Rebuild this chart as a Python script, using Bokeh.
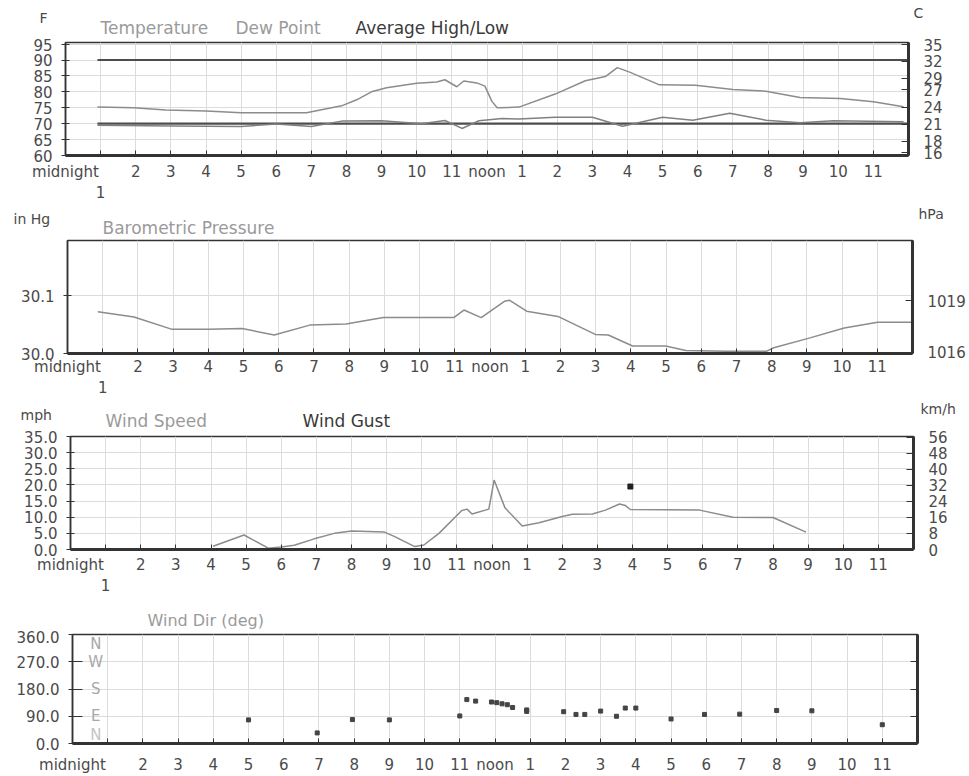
from bokeh.plotting import figure
from bokeh.models import Range1d, LinearAxis, FixedTicker, NumeralTickFormatter
from bokeh.layouts import column
from bokeh.embed import file_html
from bokeh.resources import INLINE
from bokeh.core.properties import value

FONT = "DejaVu Sans"

# ---------------- data ----------------
hour_ticks = list(range(0, 24))
hour_labels = ["midnight"] + [str(h) for h in range(1, 12)] + ["noon"] + [str(h) for h in range(1, 12)]

temp_h = [0.91, 1.94, 2.86, 4.0, 5.0, 6.0, 6.86, 7.29, 7.86, 8.29, 8.71, 9.14, 9.57, 10.0, 10.57, 10.8,
          11.14, 11.34, 11.71, 11.94, 12.14, 12.29, 12.91, 13.94, 14.8, 15.37, 15.71, 16.06, 16.91,
          17.94, 19.0, 19.94, 20.91, 22.06, 23.0, 23.86]
temp_f = [75.2, 75.0, 74.3, 74.0, 73.4, 73.4, 73.4, 74.4, 75.6, 77.5, 80.0, 81.3, 82.0, 82.7, 83.1, 83.8,
          81.6, 83.4, 82.8, 81.8, 77.0, 75.0, 75.2, 79.3, 83.5, 84.8, 87.6, 86.2, 82.2,
          82.1, 80.7, 80.2, 78.2, 77.9, 76.9, 75.3]

dew_h = [0.91, 3.0, 5.0, 6.0, 7.0, 7.86, 9.0, 10.14, 10.8, 11.29, 11.77, 12.43, 12.91, 13.94, 15.0,
         15.86, 17.0, 17.86, 18.91, 19.94, 20.91, 21.86, 23.86]
dew_f = [69.5, 69.3, 69.1, 69.9, 69.1, 70.8, 70.9, 70.0, 71.0, 68.5, 70.9, 71.6, 71.5, 72.0, 72.0,
         69.2, 72.0, 71.1, 73.3, 71.1, 70.3, 70.9, 70.6]

avg_h = [0.91, 24.0]
avg_high_f = [90, 90]
avg_low_f = [70, 70]

press_h = [0.86, 1.89, 2.95, 4.01, 4.96, 5.87, 6.88, 7.91, 8.97, 9.97, 10.97, 11.26, 11.75, 12.41, 12.55,
           13.04, 13.93, 14.99, 15.36, 16.05, 16.99, 17.56, 18.71, 19.86, 20.06, 21.09, 22.06, 23.01, 24.0]
press_inhg = [30.072, 30.063, 30.042, 30.042, 30.043, 30.032, 30.049, 30.051, 30.062, 30.062, 30.062,
              30.075, 30.062, 30.090, 30.092, 30.073, 30.064, 30.033, 30.032, 30.013, 30.013, 30.005,
              30.004, 30.004, 30.010, 30.027, 30.044, 30.054, 30.054]

wind_h = [4.06, 4.94, 5.63, 6.0, 6.37, 6.94, 7.51, 8.0, 8.94, 9.23, 9.8, 10.06, 10.49, 11.14, 11.29,
          11.43, 11.91, 12.06, 12.37, 12.86, 13.34, 14.0, 14.29, 14.86, 15.23, 15.63, 15.8, 15.94,
          17.91, 18.86, 20.0, 20.94]
wind_mph = [1.0, 4.5, 0.4, 0.8, 1.3, 3.3, 5.0, 5.7, 5.4, 4.0, 0.9, 1.4, 5.0, 12.1, 12.5,
            11.0, 12.5, 21.5, 12.9, 7.3, 8.3, 10.2, 10.9, 11.0, 12.2, 14.1, 13.6, 12.4,
            12.2, 10.0, 9.9, 5.4]

gust_h = [15.94]
gust_mph = [19.5]

dir_h = [5.0, 6.95, 7.95, 9.0, 11.0, 11.2, 11.45, 11.9, 12.05, 12.2, 12.35, 12.5, 12.9, 12.9, 13.95,
         14.3, 14.55, 15.0, 15.45, 15.7, 16.0, 17.0, 17.95, 18.95, 20.0, 21.0, 23.0]
dir_deg = [78, 35, 79, 78, 91, 145, 140, 137, 135, 131, 128, 119, 111, 106, 105,
           96, 96, 107, 90, 117, 117, 81, 96, 97, 109, 108, 62]

compass_letters = ["N", "W", "S", "E", "N"]
compass_deg = [360, 270, 180, 90, 0]

temp_f_ticks = [60, 65, 70, 75, 80, 85, 90, 95]
temp_c_ticks = [16, 18, 21, 24, 27, 29, 32, 35]
press_ticks = [30.0, 30.1]
press_hpa_ticks = [1016, 1019]
wind_ticks = [0, 5, 10, 15, 20, 25, 30, 35]
wind_kmh_ticks = [0, 8, 16, 24, 32, 40, 48, 56]
dir_ticks = [0, 90, 180, 270, 360]

# ---------------- styling helpers ----------------
W = 969
TXT = "#4a4a4a"
GRID = "#dcdcdc"
FRAME = "#333333"
LEG_LIGHT = "#9a9a9a"
LEG_DARK = "#3a3a3a"
BASE_SHIFT = 6  # alphabetic baseline correction (px)


def header(height):
    h = figure(width=W, height=height, x_range=Range1d(0, W), y_range=Range1d(height, 0),
               output_backend="svg", toolbar_location=None,
               x_axis_location=None, y_axis_location=None, frame_align=False,
               min_border_left=0, min_border_right=0, min_border_top=0, min_border_bottom=0)
    h.outline_line_color = None
    h.grid.visible = False
    return h


def htext(h, x, y, texts, color=TXT, size="14px", align="left"):
    h.text(x=x, y=[v - BASE_SHIFT for v in y], text=texts, text_font=value(FONT),
           text_font_size=size, text_color=color, text_align=align, text_baseline="alphabetic")


def make_panel(height, left, right, top, bottom, y0, y1, second_label=True, standoff=8):
    p = figure(width=W, height=height, x_range=Range1d(0, 24), y_range=Range1d(y0, y1),
               output_backend="svg", toolbar_location=None, frame_align=False,
               min_border_left=left, min_border_right=W - right,
               min_border_top=top, min_border_bottom=bottom)
    p.outline_line_color = FRAME
    p.outline_line_width = 1.5
    xa = p.xaxis[0]
    xa.ticker = FixedTicker(ticks=hour_ticks)
    ov = {h: lab for h, lab in zip(hour_ticks, hour_labels)}
    ov[1] = "\n1" if second_label else ""
    xa.major_label_overrides = ov
    xa.major_tick_in = 5
    xa.major_tick_out = 0
    xa.minor_tick_line_color = None
    xa.axis_line_width = 3
    xa.axis_line_color = FRAME
    xa.major_tick_line_color = FRAME
    xa.major_label_text_font = FONT
    xa.major_label_text_font_size = "15px"
    xa.major_label_text_color = TXT
    xa.major_label_standoff = standoff
    ya = p.yaxis[0]
    ya.minor_tick_line_color = None
    ya.axis_line_color = FRAME
    ya.axis_line_width = 1.5
    ya.major_tick_in = 4
    ya.major_tick_out = 4
    ya.major_tick_line_color = FRAME
    ya.major_label_text_font = FONT
    ya.major_label_text_font_size = "15px"
    ya.major_label_text_color = TXT
    ya.major_label_standoff = 9
    p.xgrid.ticker = FixedTicker(ticks=list(range(1, 24)))
    p.xgrid.grid_line_color = GRID
    p.ygrid.grid_line_color = GRID
    return p


def add_right_axis(p, name, r0, r1, ticks, show_labels=True):
    p.extra_y_ranges = {name: Range1d(r0, r1)}
    ax = LinearAxis(y_range_name=name, ticker=FixedTicker(ticks=ticks))
    ax.minor_tick_line_color = None
    ax.axis_line_color = FRAME
    ax.axis_line_width = 3
    ax.major_tick_in = 7
    ax.major_tick_out = 0
    ax.major_tick_line_color = FRAME
    ax.major_label_text_font = FONT
    ax.major_label_text_color = TXT
    ax.major_label_standoff = 15
    ax.major_label_text_font_size = "15px"
    if not show_labels:
        ax.major_label_text_alpha = 0
    p.add_layout(ax, "right")


# ---------------- header 1 + panel 1: temperature ----------------
h1 = header(38)
htext(h1, [43], [23], ["F"], align="center")
htext(h1, [918], [18], ["C"], align="center")
htext(h1, [100, 235], [33.5, 33.5], ["Temperature", "Dew Point"], color=LEG_LIGHT, size="17px")
htext(h1, [355], [33], ["Average High/Low"], color=LEG_DARK, size="17px")

p1 = make_panel(167, 65, 908, 4, 50, 60, 95.5, standoff=7)
p1.yaxis[0].ticker = FixedTicker(ticks=temp_f_ticks)
p1.ygrid.ticker = FixedTicker(ticks=temp_f_ticks)
add_right_axis(p1, "c", (60 - 32) / 1.8, (95.5 - 32) / 1.8, temp_c_ticks)
p1.line(avg_h, avg_high_f, line_color="#4d4d4d", line_width=2.2)
p1.line(avg_h, avg_low_f, line_color="#4d4d4d", line_width=2.2)
p1.line(dew_h, dew_f, line_color="#808080", line_width=1.5)
p1.line(temp_h, temp_f, line_color="#8c8c8c", line_width=1.5)

# ---------------- header 2 + panel 2: pressure ----------------
h2 = header(33)
htext(h2, [13], [19], ["in Hg"])
htext(h2, [918], [14], ["hPa"])
htext(h2, [102], [28], ["Barometric Pressure"], color=LEG_LIGHT, size="17px")

P_TOP = 30.195
p2 = make_panel(162, 67, 912, 2, 47, 30.0, P_TOP, standoff=4)
p2.yaxis[0].ticker = FixedTicker(ticks=press_ticks)
p2.yaxis[0].formatter = NumeralTickFormatter(format="0.0")
p2.ygrid.ticker = FixedTicker(ticks=press_ticks)
add_right_axis(p2, "hpa", 30.0 * 33.8639, P_TOP * 33.8639, press_hpa_ticks)
p2.line(press_h, press_inhg, line_color="#8c8c8c", line_width=1.5)

# ---------------- header 3 + panel 3: wind ----------------
h3 = header(30)
htext(h3, [20], [20], ["mph"])
htext(h3, [920], [14], ["km/h"])
htext(h3, [105], [26], ["Wind Speed"], color=LEG_LIGHT, size="17px")
htext(h3, [302], [26], ["Wind Gust"], color=LEG_DARK, size="17px")

p3 = make_panel(168, 70, 913, 6, 49, 0, 35, standoff=6)
p3.yaxis[0].ticker = FixedTicker(ticks=wind_ticks)
p3.yaxis[0].formatter = NumeralTickFormatter(format="0.0")
p3.ygrid.ticker = FixedTicker(ticks=wind_ticks)
add_right_axis(p3, "kmh", 0, 35 * 1.609344, wind_kmh_ticks)
p3.line(wind_h, wind_mph, line_color="#8c8c8c", line_width=1.5)
p3.scatter(gust_h, gust_mph, marker="square", size=5, color="#222222")

# ---------------- header 4 + panel 4: wind direction ----------------
h4 = header(32)
htext(h4, [147], [28], ["Wind Dir (deg)"], color=LEG_LIGHT, size="16px")

p4 = make_panel(146, 72, 917, 4, 32, 0, 360, second_label=False, standoff=12)
p4.yaxis[0].ticker = FixedTicker(ticks=dir_ticks)
p4.yaxis[0].formatter = NumeralTickFormatter(format="0.0")
p4.yaxis[0].major_tick_in = 10
p4.ygrid.ticker = FixedTicker(ticks=dir_ticks)
add_right_axis(p4, "deg", 0, 360, [90, 180, 270], show_labels=False)
compass_x = [0.66] * len(compass_letters)
p4.text(x=compass_x[1:4], y=compass_deg[1:4], text=compass_letters[1:4],
        text_font=value(FONT), text_font_size="15px", text_color="#a8a8a8",
        text_align="center", text_baseline="middle")
p4.text(x=compass_x[:1], y=compass_deg[:1], text=compass_letters[:1],
        text_font=value(FONT), text_font_size="15px", text_color="#a8a8a8",
        text_align="center", text_baseline="top")
p4.text(x=compass_x[4:], y=compass_deg[4:], text=compass_letters[4:],
        text_font=value(FONT), text_font_size="15px", text_color="#c4c4c4",
        text_align="center", text_baseline="bottom")
p4.scatter(dir_h, dir_deg, marker="square", size=4, color="#444444")

layout = column(h1, p1, h2, p2, h3, p3, h4, p4, spacing=0)
open("out.html", "w").write(file_html(layout, INLINE))
